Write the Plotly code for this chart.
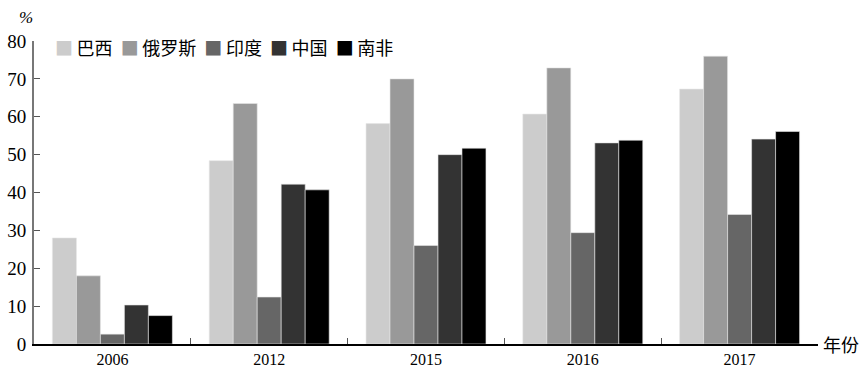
import plotly.graph_objects as go

years = ["2006", "2012", "2015", "2016", "2017"]
countries = ["巴西", "俄罗斯", "印度", "中国", "南非"]
brazil = [28.0, 48.4, 58.2, 60.7, 67.3]
russia = [18.0, 63.5, 70.0, 72.9, 76.0]
india = [2.6, 12.4, 26.0, 29.4, 34.2]
china = [10.3, 42.2, 50.0, 53.1, 54.1]
south_africa = [7.5, 40.7, 51.7, 53.8, 56.1]
colors = ["#cccccc", "#999999", "#666666", "#333333", "#000000"]
series = [brazil, russia, india, china, south_africa]

SERIF = "Liberation Serif, Times New Roman, Times, serif"
CJK = "Noto Sans CJK SC"

fig = go.Figure()
for name, vals, c in zip(countries, series, colors):
    fig.add_trace(go.Bar(x=years, y=vals, name=name, showlegend=False,
                         marker=dict(color=c, line=dict(color="#e6e6e6", width=0.6))))

fig.update_layout(
    width=866, height=369,
    margin=dict(l=34, r=48, t=41, b=25),
    plot_bgcolor="white", paper_bgcolor="white",
    barmode="group", bargap=0.235, bargroupgap=0,
    font=dict(family=SERIF, size=17, color="black"),
    xaxis=dict(type="category", tickson="boundaries", ticks="inside", ticklen=6,
               tickcolor="#555", showline=True, linecolor="black", linewidth=1.5,
               showgrid=False, tickfont=dict(family=SERIF, size=16), automargin=False),
    yaxis=dict(range=[0, 80], dtick=10, ticks="inside", ticklen=6, tickcolor="#555",
               showline=True, linecolor="#777", linewidth=2, showgrid=False,
               zeroline=False, tickfont=dict(family=SERIF, size=19), automargin=False,
               ticklabelstandoff=2),
)

# legend built from the series names and colours
legend_html = "&nbsp;&nbsp;".join(
    f"<span style='color:{c}'>■</span>&#8201;{n}" for n, c in zip(countries, colors)
)
fig.add_annotation(text=legend_html, xref="paper", yref="paper", x=0.024, y=1.0,
                   yshift=-6, xanchor="left", yanchor="middle", showarrow=False,
                   font=dict(family=CJK, size=18, color="black"))
fig.add_annotation(text="<i>%</i>", xref="paper", yref="paper", x=0, y=1, xshift=-8, yshift=12,
                   xanchor="center", yanchor="bottom", showarrow=False,
                   font=dict(family=SERIF, size=17))
fig.add_annotation(text="年份", xref="paper", yref="paper", x=1, y=0, xshift=3,
                   xanchor="left", yanchor="middle", showarrow=False,
                   font=dict(family=CJK, size=18))
fig.write_html("out.html")
